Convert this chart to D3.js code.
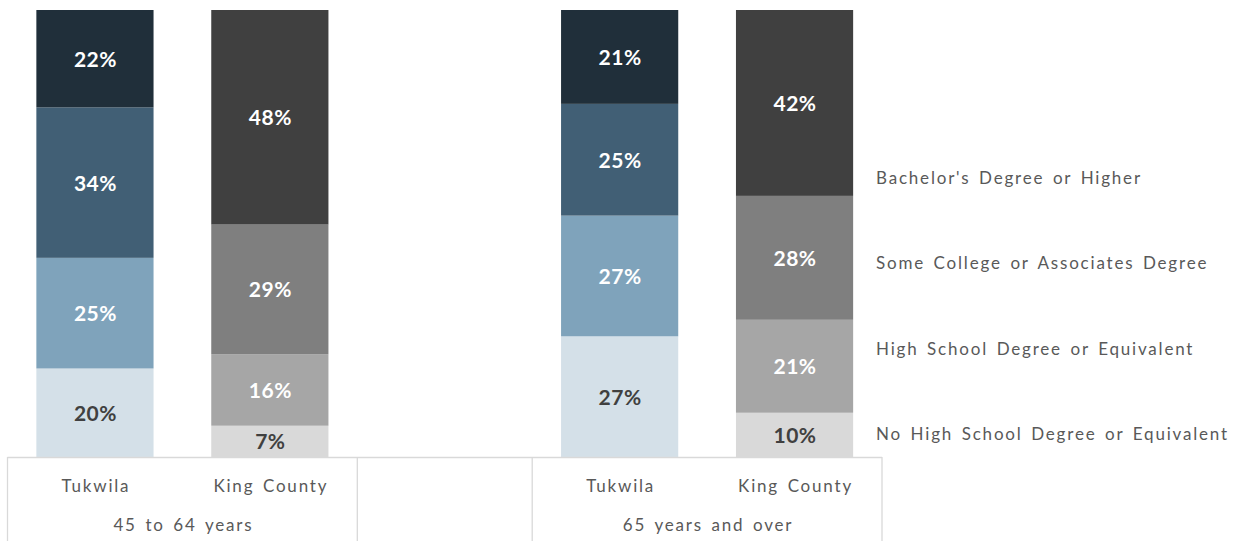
<!DOCTYPE html>
<html>
<head>
<meta charset="utf-8">
<script src="https://d3js.org/d3.v7.min.js"></script>
<style>
  body { margin: 0; background: #fff; }
  text { font-family: "Century Gothic", Lato, "Open Sans", sans-serif; }
  .lbl { letter-spacing: 1.8px; word-spacing: 2.5px; }
</style>
</head>
<body>
<div id="chart"></div>
<script>
// chart values (percent), one entry per bar: Tukwila 45-64, King 45-64, Tukwila 65+, King 65+
var barPlaces = ["Tukwila", "King County", "Tukwila", "King County"];
var barGroups = ["45 to 64 years", "45 to 64 years", "65 years and over", "65 years and over"];
var groupNames = ["45 to 64 years", "", "65 years and over"];
var seriesNames = ["No High School Degree or Equivalent", "High School Degree or Equivalent",
                   "Some College or Associates Degree", "Bachelor's Degree or Higher"];
var noHighSchool = [20, 7, 27, 10];
var highSchool = [25, 16, 27, 21];
var someCollege = [34, 29, 25, 28];
var bachelors = [22, 48, 21, 42];

var tukwilaColors = ["#d4e0e8", "#7fa3bb", "#415f75", "#202f3a"];
var kingColors = ["#d9d9d9", "#a6a6a6", "#7f7f7f", "#404040"];
var tukwilaText = ["#404040", "#ffffff", "#ffffff", "#ffffff"];
var kingText = ["#404040", "#ffffff", "#ffffff", "#ffffff"];

var svgWidth = 1236, svgHeight = 541;
var svg = d3.select("#chart").append("svg")
    .attr("width", svgWidth)
    .attr("height", svgHeight);

// 5 slots: two bars, an empty slot, two bars
var slots = ["s0", "s1", "gap", "s3", "s4"];
var barSlot = ["s0", "s1", "s3", "s4"];

var xSlot = d3.scaleBand().domain(slots).range([7.5, 882]).padding(0);
var xBar = d3.scaleBand().domain(slots).range([7.5, 882]).paddingInner(0.33).paddingOuter(0.165);
var yScale = d3.scaleLinear().domain([0, 1]).range([457, 10]);

var rows = barSlot.map(function(s, i) {
  return { slot: s, place: barPlaces[i], group: barGroups[i], idx: i,
           k0: noHighSchool[i], k1: highSchool[i], k2: someCollege[i], k3: bachelors[i] };
});
var stack = d3.stack().keys(["k0", "k1", "k2", "k3"]).offset(d3.stackOffsetExpand);
var stacked = stack(rows);

var layers = svg.append("g").selectAll("g")
  .data(stacked)
  .enter().append("g");

layers.selectAll("rect")
  .data(function(layer, li) { return layer.map(function(d) { return { d: d, li: li, key: layer.key }; }); })
  .enter().append("rect")
  .attr("x", function(o) { return xBar(o.d.data.slot); })
  .attr("width", xBar.bandwidth())
  .attr("y", function(o) { return yScale(o.d[1]); })
  .attr("height", function(o) { return yScale(o.d[0]) - yScale(o.d[1]); })
  .attr("fill", function(o) {
    return o.d.data.place === "Tukwila" ? tukwilaColors[o.li] : kingColors[o.li];
  });

layers.selectAll("text")
  .data(function(layer, li) { return layer.map(function(d) { return { d: d, li: li, key: layer.key }; }); })
  .enter().append("text")
  .attr("x", function(o) { return xBar(o.d.data.slot) + xBar.bandwidth() / 2 + 0.5; })
  .attr("y", function(o) { return (yScale(o.d[0]) + yScale(o.d[1])) / 2 + 8; })
  .attr("text-anchor", "middle")
  .style("font-size", "21px")
  .style("font-weight", "bold")
  .style("letter-spacing", "0.5px")
  .attr("fill", function(o) {
    return o.d.data.place === "Tukwila" ? tukwilaText[o.li] : kingText[o.li];
  })
  .text(function(o) { return o.d.data[o.key] + "%"; });

// axis: baseline and group separators
var axis = svg.append("g");
axis.append("line")
  .attr("x1", xSlot("s0")).attr("x2", xSlot("s4") + xSlot.bandwidth())
  .attr("y1", 457.5).attr("y2", 457.5)
  .attr("stroke", "#d9d9d9").attr("stroke-width", 1.3);

var sepX = [xSlot("s0"), xSlot("gap"), xSlot("s3"), xSlot("s4") + xSlot.bandwidth()];
axis.selectAll("line.sep")
  .data(sepX)
  .enter().append("line")
  .attr("class", "sep")
  .attr("x1", function(d) { return d; }).attr("x2", function(d) { return d; })
  .attr("y1", 457).attr("y2", svgHeight)
  .attr("stroke", "#d9d9d9").attr("stroke-width", 1.3);

axis.selectAll("text.cat")
  .data(rows)
  .enter().append("text")
  .attr("class", "cat lbl")
  .attr("x", function(d) { return xSlot(d.slot) + xSlot.bandwidth() / 2 + 1; })
  .attr("y", 492)
  .attr("text-anchor", "middle")
  .style("font-size", "17px")
  .attr("fill", "#595959")
  .text(function(d) { return d.place; });

var groupCenters = [
  (xSlot("s0") + xSlot("gap")) / 2,
  xSlot("gap") + xSlot.bandwidth() / 2,
  (xSlot("s3") + xSlot("s4") + xSlot.bandwidth()) / 2
];
axis.selectAll("text.grp")
  .data(groupNames)
  .enter().append("text")
  .attr("class", "grp lbl")
  .attr("x", function(d, i) { return groupCenters[i] + 1; })
  .attr("y", 531)
  .attr("text-anchor", "middle")
  .style("font-size", "17px")
  .attr("fill", "#595959")
  .text(function(d) { return d; });

// legend (text only), top entry first
var legendY = d3.scalePoint().domain(seriesNames.slice().reverse()).range([184, 440]);
svg.append("g").selectAll("text")
  .data(seriesNames)
  .enter().append("text")
  .attr("class", "lbl")
  .attr("x", 876)
  .attr("y", function(d) { return legendY(d); })
  .style("font-size", "17px")
  .attr("fill", "#595959")
  .text(function(d) { return d; });
</script>
</body>
</html>
